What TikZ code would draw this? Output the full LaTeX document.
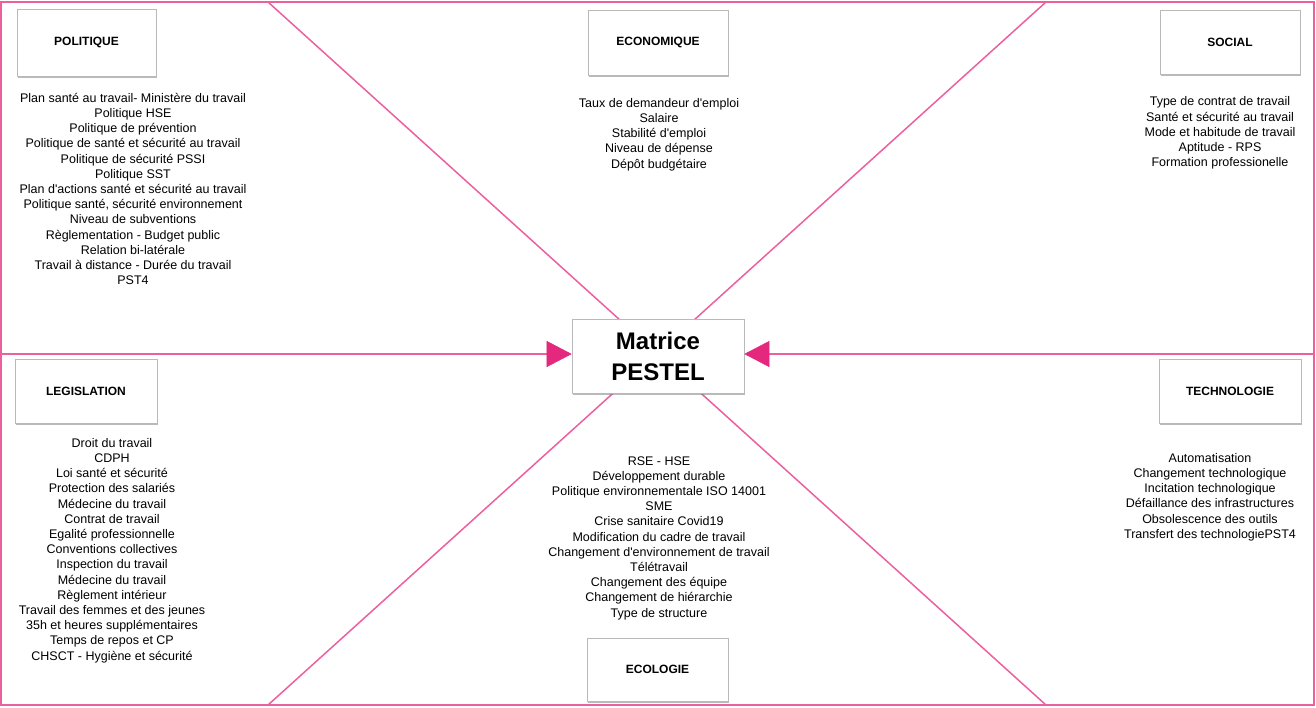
\documentclass[tikz,border=0pt]{standalone}
\usepackage{fontspec}
\setmainfont{Liberation Sans}[Ligatures=TeXOff]
\usetikzlibrary{arrows.meta,shadows}
\definecolor{pinkline}{RGB}{236,96,158}
\definecolor{pinkarrow}{RGB}{228,40,125}
\begin{document}
\begin{tikzpicture}[x=1pt,y=-1pt,
  catbox/.style={draw=gray!55, fill=white, line width=0.6pt, minimum width=140pt, minimum height=65pt,
    inner sep=0pt, font=\fontsize{12}{14}\selectfont\bfseries,
    drop shadow={shadow xshift=1.2pt, shadow yshift=-2pt, opacity=0.45, fill=black!60}},
  mainbox/.style={draw=gray!55, fill=white, line width=0.6pt, minimum width=172pt, minimum height=74pt,
    inner sep=0pt, align=center, font=\fontsize{24}{31}\selectfont\bfseries,
    drop shadow={shadow xshift=1.2pt, shadow yshift=-2pt, opacity=0.45, fill=black!60}},
  itemlist/.style={align=center, font=\fontsize{12.5}{15.2}\selectfont, inner sep=0pt},
  pline/.style={draw=pinkline, line width=1.5pt},
  parrow/.style={draw=pinkline, line width=2pt,
    -{Triangle[length=25pt, width=26pt, line width=0.5pt, color=pinkarrow, fill=pinkarrow]}}]
\useasboundingbox (0,0) rectangle (1316,707);
% frame and diagonals
\coordinate (tl) at (268,2);
\coordinate (tr) at (1046,2);
\coordinate (bl) at (268,705);
\coordinate (br) at (1046,705);
\coordinate (lm) at (1,354);
\coordinate (rm) at (1314,354);
\draw[pline] (1,2) rectangle (1314,705);
\draw[pline] (tl) -- (br);
\draw[pline] (tr) -- (bl);
% centre
\node[mainbox] (pestel) at (658,356) {Matrice\\PESTEL};
\draw[parrow] (lm) -- (lm -| pestel.west);
\draw[parrow] (rm) -- (rm -| pestel.east);
% category boxes
\node[catbox, minimum width=139pt, minimum height=67pt] (pol) at (86.5,42.5) {POLITIQUE};
\node[catbox] (eco) at (658,42.5) {ECONOMIQUE};
\node[catbox, minimum height=64pt] (soc) at (1230,42) {SOCIAL};
\node[catbox, minimum width=142pt, minimum height=64pt] (leg) at (86,391) {LEGISLATION};
\node[catbox, minimum width=142pt, minimum height=64pt] (tec) at (1230,391) {TECHNOLOGIE};
\node[catbox, minimum width=141pt, minimum height=63pt] (ecol) at (657.5,669.5) {ECOLOGIE};
% lists
\node[itemlist] (polL) at (133,189) {Plan santé au travail- Ministère du travail\\Politique HSE\\Politique de prévention\\Politique de santé et sécurité au travail\\Politique de sécurité PSSI\\Politique SST\\Plan d'actions santé et sécurité au travail\\Politique santé, sécurité environnement\\Niveau de subventions\\Règlementation - Budget public\\Relation bi-latérale\\Travail à distance - Durée du travail\\PST4};
\node[itemlist] (ecoL) at (659,134.5) {Taux de demandeur d'emploi\\Salaire\\Stabilité d'emploi\\Niveau de dépense\\Dépôt budgétaire};
\node[itemlist] (socL) at (1220,133) {Type de contrat de travail\\Santé et sécurité au travail\\Mode et habitude de travail\\Aptitude - RPS\\Formation professionelle};
\node[itemlist] (legL) at (112,550.5) {Droit du travail\\CDPH\\Loi santé et sécurité\\Protection des salariés\\Médecine du travail\\Contrat de travail\\Egalité professionnelle\\Conventions collectives\\Inspection du travail\\Médecine du travail\\Règlement intérieur\\Travail des femmes et des jeunes\\35h et heures supplémentaires\\Temps de repos et CP\\CHSCT - Hygiène et sécurité};
\node[itemlist] (tecL) at (1210,497) {Automatisation\\Changement technologique\\Incitation technologique\\Défaillance des infrastructures\\Obsolescence des outils\\Transfert des technologiePST4};
\node[itemlist] (ecolL) at (659,538) {RSE - HSE\\Développement durable\\Politique environnementale ISO 14001\\SME\\Crise sanitaire Covid19\\Modification du cadre de travail\\Changement d'environnement de travail\\Télétravail\\Changement des équipe\\Changement de hiérarchie\\Type de structure};
\end{tikzpicture}
\end{document}
